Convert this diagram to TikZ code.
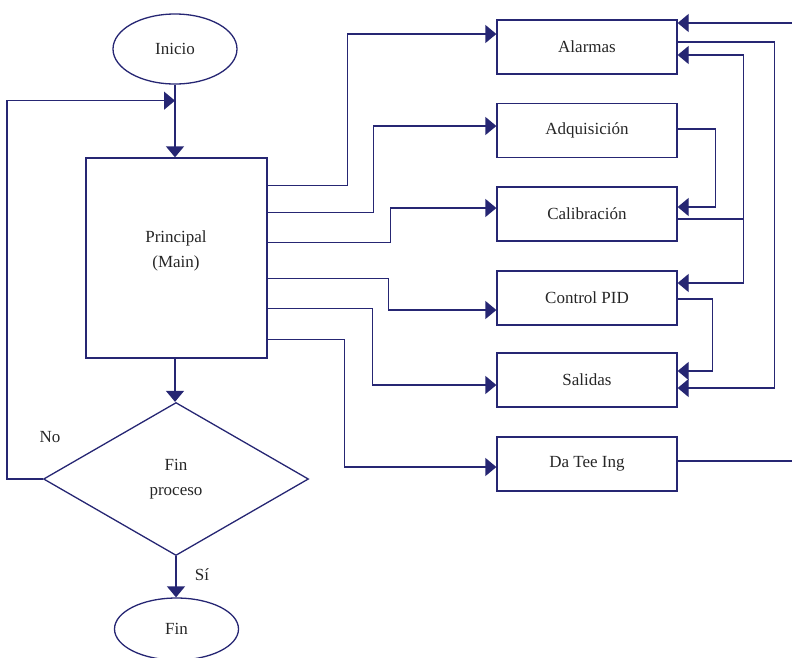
\documentclass[tikz,border=0pt]{standalone}
\usepackage{fontspec}
\setmainfont{Liberation Serif}
\usetikzlibrary{arrows.meta,shapes.geometric}
\definecolor{navy}{RGB}{38,38,115}
\begin{document}
\begin{tikzpicture}[x=1pt,y=-1pt,
  every node/.style={text=black!85, font=\fontsize{17}{25}\selectfont},
  ln/.style={draw=navy, line width=1.3pt},
  arr/.style={ln, -{Triangle[length=11pt,width=18pt]}},
  boxn/.style={ln, rectangle, minimum width=180pt, minimum height=54pt, inner sep=0pt},
  ell/.style={ln, ellipse, inner sep=0pt},
  txt/.style={inner sep=0pt, align=center}]
\useasboundingbox (0,0) rectangle (792,657);
% left column
\node[ell, minimum width=124pt, minimum height=70pt] (inicio) at (175,49) {Inicio};
\node[ln, rectangle, minimum width=181pt, minimum height=200pt, inner sep=0pt] (principal) at (176.5,258) {};
\node[txt] (ptxt) at (176,251) {Principal\\(Main)};
\node[ln, diamond, minimum width=265pt, minimum height=153pt, inner sep=0pt, aspect=1.73, align=center] (fp) at (176,479) {Fin\\proceso};
\node[ell, minimum width=124pt, minimum height=62pt] (fin) at (176.5,629) {Fin};
\node[txt] (no) at (50,437) {No};
\node[txt] (si) at (202,575) {Sí};
% right column
\node[boxn] (alarmas) at (587,47) {Alarmas};
\node[boxn] (adq) at (587,130.5) {Adquisición};
\node[boxn] (cal) at (587,214) {Calibración};
\node[boxn] (pid) at (587,298) {Control PID};
\node[boxn] (sal) at (587,380) {Salidas};
\node[boxn] (datee) at (587,464) {Da Tee Ing};
% vertical flow
\coordinate (m) at ([yshift=-16pt]inicio.south);
\draw[arr] (inicio.south) -- (inicio.south |- principal.north);
\draw[arr] (inicio.south |- principal.south) -- (inicio.south |- fp.north);
\draw[arr] (fp.south) -- (fp.south |- fin.north);
\draw[arr] (fp.west) -- ++(-36,0) |- (m);
% principal to modules
\draw[arr] ([yshift=-28pt]principal.north east) -- ++(80,0) |- ([yshift=13pt]alarmas.west);
\draw[arr] ([yshift=-55pt]principal.north east) -- ++(106,0) |- ([yshift=4.5pt]adq.west);
\draw[arr] ([yshift=-85pt]principal.north east) -- ++(123,0) |- ([yshift=6pt]cal.west);
\draw[arr] ([yshift=-121pt]principal.north east) -- ++(121,0) |- ([yshift=-12pt]pid.west);
\draw[arr] ([yshift=-151pt]principal.north east) -- ++(105,0) |- ([yshift=-5pt]sal.west);
\draw[arr] ([yshift=-182pt]principal.north east) -- ++(77,0) |- ([yshift=-3pt]datee.west);
% right side connections
\coordinate (extA) at (792,23);
\coordinate (extB) at (792,461);
\draw[arr] (extA) -- ([yshift=24pt]alarmas.east);
\draw[arr] ([yshift=5pt]alarmas.east) -- ++(97,0) |- ([yshift=-8pt]sal.east);
\coordinate (j) at ([yshift=-5pt,xshift=66pt]cal.east);
\draw[ln] ([yshift=-5pt]cal.east) -- (j);
\draw[arr] (j) |- ([yshift=-8pt]alarmas.east);
\draw[arr] (j) |- ([yshift=15pt]pid.east);
\draw[arr] ([yshift=1.5pt]adq.east) -- ++(38,0) |- ([yshift=7pt]cal.east);
\draw[arr] ([yshift=-1pt]pid.east) -- ++(35,0) |- ([yshift=9pt]sal.east);
\draw[ln] ([yshift=3pt]datee.east) -- (extB);
\end{tikzpicture}
\end{document}
